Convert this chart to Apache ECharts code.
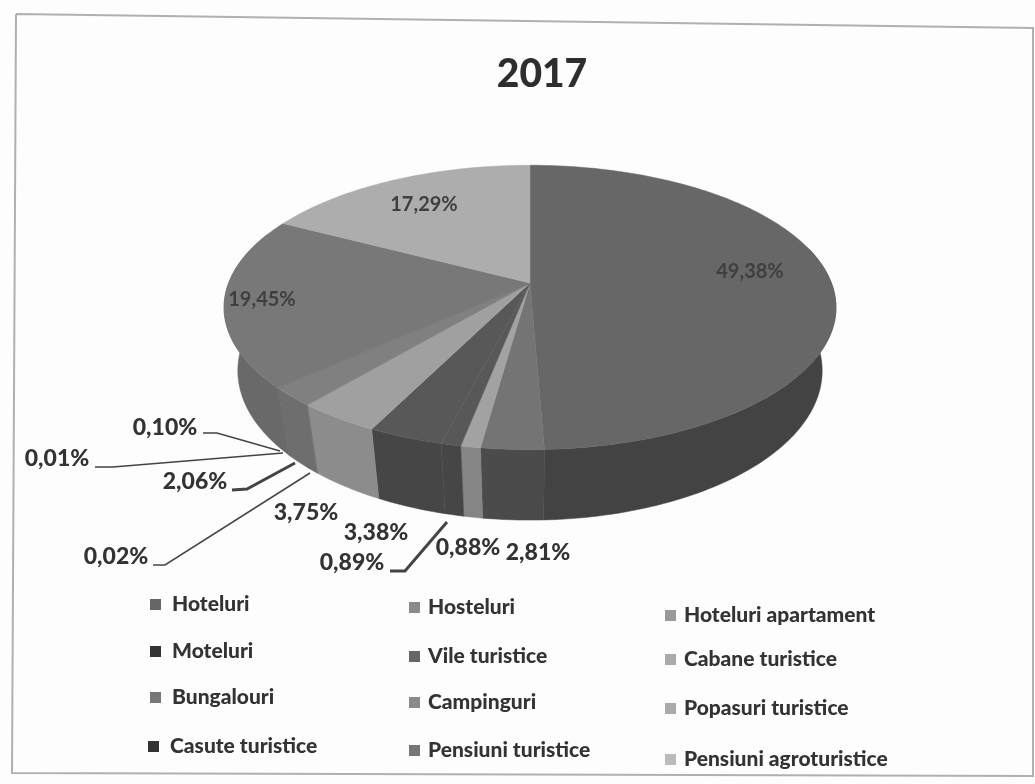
<!DOCTYPE html>
<html><head><meta charset="utf-8">
<style>html,body{margin:0;padding:0;background:#fdfdfd}#c{width:1035px;height:784px}</style>
<script src="https://cdn.jsdelivr.net/npm/echarts@6/dist/echarts.min.js"></script>
</head><body><div id="c"></div>
<script>
const categories = ['Hoteluri','Hosteluri','Hoteluri apartament','Moteluri','Vile turistice','Cabane turistice','Bungalouri','Campinguri','Popasuri turistice','Casute turistice','Pensiuni turistice','Pensiuni agroturistice'];
const shares = [49.38,2.81,0.88,0.89,3.38,3.75,0.02,2.06,0.01,0.10,19.45,17.29];
const topColors = ['#676767','#747474','#a2a2a2','#585858','#585858','#a0a0a0','#808080','#808080','#7c7c7c','#7a7a7a','#787878','#adadad'];
const wallColors = ['#434343','#4b4b4b','#858585','#464646','#464646','#8c8c8c','#6e6e6e','#6e6e6e','#6c6c6c','#6a6a6a','#696969','#8e8e8e'];
const legendColors = ['#666666','#8a8a8a','#999999','#333333','#666666','#aaaaaa','#777777','#8a8a8a','#aaaaaa','#333333','#777777','#bbbbbb'];
const legendAt = [[150,594],[409,597],[665,605],[150,641],[409,646],[665,649],[150,687],[409,692],[665,698],[148,736],[409,740],[665,749]];
const legendGap = [6,3,3,6,3,3,6,3,3,6,3,3];
const labelAt = [[750,272],[538,553],[468,548],[352,563],[376,533],[306,513],[116,557],[195,482],[57,459],[165,428],[262,300],[424,205]];
const leaders = [null,null,null,[[390,571],[405,571],[447,522]],null,null,[[153,565],[165,565],[310,473]],[[232,490],[247,489],[295,463]],[[95,467],[113,467],[283,453]],[[203,433],[217,433],[280,451]],null,null];
const leaderWidth = [0,0,0,3,0,0,1.5,3,1.5,1.5,0,0];
const frame = [[16,14],[1033,28],[1033,776],[12,773],[16,14]];
const title = '2017';

const total = shares.reduce((a,b)=>a+b,0);
const startOf = i => shares.slice(0,i).reduce((a,b)=>a+b,0)/total*2*Math.PI;
const P = {cx:530, R:301.4, a:0.172, topY:283, topK:138, botY:345, botK:145, botX:0.955};
function rim(t, bottom){
  const s=Math.sin(t), c=-Math.cos(t), w=1-P.a*c;
  return bottom ? [P.cx+P.botX*P.R*s/w, P.botY+P.botK*c/w] : [P.cx+P.R*s/w, P.topY+P.topK*c/w];
}
function arc(a,b,bottom){
  const n=Math.max(2,Math.ceil((b-a)/0.02)), pts=[];
  for(let k=0;k<=n;k++) pts.push(rim(a+(b-a)*k/n,bottom));
  return pts;
}
const visA=75*Math.PI/180, visB=292*Math.PI/180;
function drawSlice(i){
  return function(){
    const a=startOf(i), b=startOf(i+1), kids=[];
    const va=Math.max(a,visA), vb=Math.min(b,visB);
    if(vb>va){
      kids.push({type:'polygon',z2:1,shape:{points:arc(va,vb,false).concat(arc(va,vb,true).reverse())},
        style:{fill:wallColors[i],stroke:wallColors[i],lineWidth:0.5}});
    }
    kids.push({type:'polygon',z2:5,shape:{points:[[P.cx,P.topY]].concat(arc(a,b,false))},
      style:{fill:topColors[i],stroke:topColors[i],lineWidth:0.5}});
    if(leaders[i]) kids.push({type:'polyline',z2:8,shape:{points:leaders[i]},style:{fill:null,stroke:'#444',lineWidth:leaderWidth[i]}});
    const inner=[0,10,11].includes(i);
    kids.push({type:'text',z2:10,x:labelAt[i][0],y:labelAt[i][1],style:{
      text:shares[i].toFixed(2).replace('.',',')+'%',x:0,y:0,align:'center',verticalAlign:'middle',
      font:(inner?'bold 20px':'900 23px')+' Lato, sans-serif',fill:inner?'#3f3f3f':'#333'}});
    return {type:'group',children:kids};
  };
}
const option={
  animation:false,
  backgroundColor:'#fdfdfd',
  title:{text:title,left:537,top:50,textAlign:'center',textStyle:{fontFamily:'Lato',fontWeight:900,fontSize:39,color:'#2e2e2e'}},
  legend:categories.map((n,i)=>({data:[n],left:legendAt[i][0],top:legendAt[i][1],icon:'rect',itemWidth:11,itemHeight:11,padding:0,selectedMode:false,
    textStyle:{fontFamily:'Lato',fontWeight:900,fontSize:21,color:'#333',padding:[0,0,0,legendGap[i]]}})),
  graphic:[{type:'polyline',shape:{points:frame},style:{fill:null,stroke:'#b0b0b0',lineWidth:2},silent:true}],
  series:categories.map((n,i)=>({type:'custom',name:n,coordinateSystem:'none',silent:true,
    itemStyle:{color:legendColors[i]},data:[shares[i]],renderItem:drawSlice(i)}))
};
echarts.init(document.getElementById('c')).setOption(option);
</script></body></html>
